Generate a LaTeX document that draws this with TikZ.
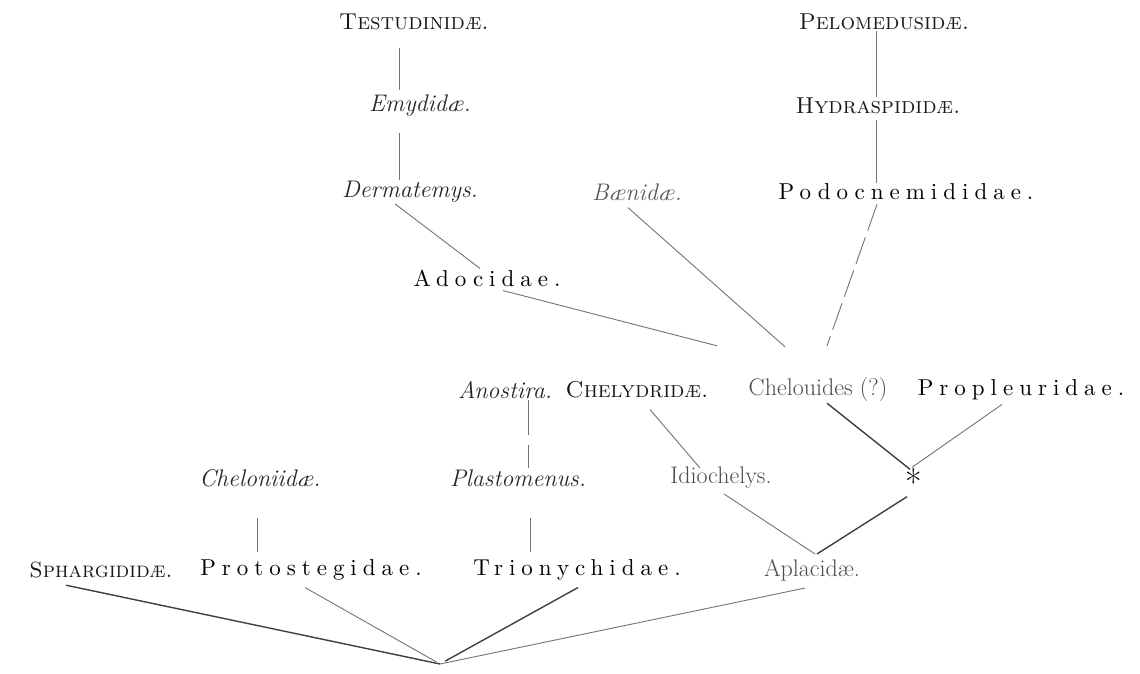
\documentclass[tikz,border=0pt]{standalone}
\usepackage{fontspec}
\usepackage{xcolor}
\usepackage{tikz}
\usetikzlibrary{calc, positioning}

% police espacee pour les familles fossiles
\newfontfamily\spacedfont{lmroman10-regular.otf}[LetterSpace=26]

\tikzset{
  fam/.style={inner sep=1pt, text=black!85, font=\fontsize{24}{26}\selectfont},
  famlt/.style={fam, text=black!70},
  famit/.style={fam, font=\fontsize{24}{26}\selectfont\itshape},
  famsc/.style={fam, text=black!90, font=\fontsize{23}{25}\selectfont\scshape},
  famsp/.style={fam, text=black, font=\fontsize{23}{25}\spacedfont},
  link/.style={draw=black!55, line width=0.9pt},
  linkb/.style={draw=black!75, line width=1.4pt},
}

\begin{document}
\begin{tikzpicture}[x=1pt, y=-1pt]
    \useasboundingbox (0,0) rectangle (1140,674);
    \fill[white] (0,0) rectangle (1140,674);

    % --- HANG TREN: TESTUDINIDAE / PELOMEDUSIDAE ---
    \node[famsc] (testu) at (414,22) {Testudinid\ae.};
    \node[famit] (emyd) at (420,106) {Emydid\ae.};
    \node[famit] (derm) at (410,192) {Dermatemys.};
    \node[famit, text=black!65] (baen) at (637,192) {B\ae nid\ae.};
    \node[famsc] (pelo) at (884,22) {Pelomedusid\ae.};
    \node[famsc] (hydr) at (878,106) {Hydraspidid\ae.};
    \node[famsp] (podo) at (906,192) {Podocnemididae.};
    \node[famsp] (adoc) at (487,278) {Adocidae.};

    % --- HANG GIUA ---
    \node[famit] (anos) at (505,390) {Anostira.};
    \node[famsc] (chely) at (637,390) {Chelydrid\ae.};
    \node[famlt] (chelo) at (818,390) {Chelouides (?)};
    \node[famsp] (prop) at (1021,390) {Propleuridae.};
    \node[famit] (chelon) at (260,478) {Cheloniid\ae.};
    \node[famit] (plast) at (518,478) {Plastomenus.};
    \node[famlt] (idio) at (721,478) {Idiochelys.};
    \node[fam, text=black, font=\fontsize{36}{36}\selectfont] (star) at (914,482) {\raisebox{-0.38em}{*}};

    % --- HANG DUOI ---
    \node[famsc, font=\fontsize{22}{24}\selectfont\scshape] (sphar) at (101,570) {Sphargidid\ae.};
    \node[famsp] (proto) at (311,570) {Protostegidae.};
    \node[famsp] (trion) at (577,570) {Trionychidae.};
    \node[famlt] (aplac) at (812,570) {Aplacid\ae.};
    \coordinate (root) at (440,664);

    % Cac doan thang dung
    \draw[link, shorten <=17pt, shorten >=4pt] ([xshift=-15pt]testu.south) -- ([xshift=-21pt]emyd.north);
    \draw[link, shorten <=15pt] ([xshift=-21pt]emyd.south) -- ([xshift=-11pt]derm.north);
    \draw[link] ([xshift=-8pt]pelo.south) -- ([xshift=-2pt]hydr.north);
    \draw[link, shorten <=5pt] ([xshift=-2pt]hydr.south) -- ([xshift=-30pt]podo.north);
    \draw[link, dash pattern=on 35pt off 10pt] ([xshift=23pt]anos.south) -- ([xshift=10pt]plast.north);
    \draw[link, shorten <=30pt, shorten >=6pt] ([xshift=-3pt]chelon.south) -- ([xshift=-54pt]proto.north);
    \draw[link, shorten <=30pt, shorten >=6pt] ([xshift=12pt]plast.south) -- ([xshift=-47pt]trion.north);

    % Cac doan xien
    \draw[link] ([xshift=-15pt]derm.south) -- ([xshift=-7pt]adoc.north);
    \draw[link] ([xshift=16pt,yshift=-3pt]adoc.south) -- ([xshift=-101pt,yshift=31pt]chelo.north);
    \draw[link] ([xshift=-9pt,yshift=-6pt]baen.south) -- ([xshift=-33pt,yshift=30pt]chelo.north);
    \draw[link, dash pattern=on 28pt off 7pt] ([xshift=-29pt,yshift=-3pt]podo.south) -- ([xshift=9pt,yshift=31pt]chelo.north);
    \draw[linkb] ([xshift=9pt]chelo.south) -- ([xshift=-4pt,yshift=-2pt]star.north);
    \draw[link] ([xshift=-19pt,yshift=-3pt]prop.south) -- ([xshift=-2pt]star.north);
    \draw[link] ([xshift=13pt,yshift=-10pt]chely.south) -- ([xshift=-21pt,yshift=-2pt]idio.north);
    \draw[link] ([xshift=3pt,yshift=-4pt]idio.south) -- ([xshift=3pt,yshift=4pt]aplac.north);
    \draw[linkb] ([xshift=-7pt]star.south) -- ([xshift=5pt,yshift=4pt]aplac.north);

    % --- NHANH VE GOC ---
    \draw[linkb] ([xshift=-35pt,yshift=-6pt]sphar.south) -- (root);
    \draw[link, shorten >=4pt] ([xshift=-6pt,yshift=-6pt]proto.south) -- (root);
    \draw[linkb, shorten >=6pt] ([xshift=1pt,yshift=-6pt]trion.south) -- (root);
    \draw[link] ([xshift=-7pt,yshift=-6pt]aplac.south) -- (root);
\end{tikzpicture}
\end{document}
